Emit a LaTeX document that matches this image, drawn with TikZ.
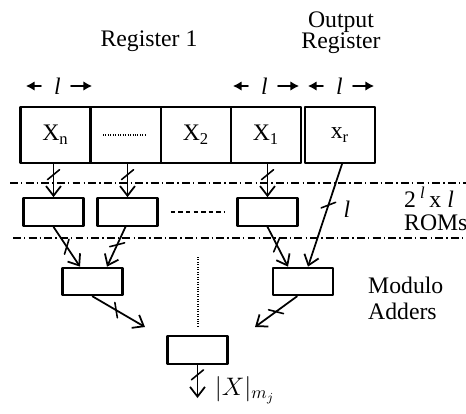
\documentclass[tikz,border=0pt]{standalone}
\usepackage{fontspec}
\setmainfont{Liberation Serif}
\usetikzlibrary{arrows.meta,decorations.markings,calc}
\begin{document}
\begin{tikzpicture}[x=0.02cm,y=-0.02cm,line cap=round,line join=round,
  font=\fontsize{13.5}{15}\selectfont,
  reg/.style={draw,line width=1.25pt,minimum width=1.4cm,minimum height=1.12cm,inner sep=0pt},
  blk/.style={draw,line width=1.25pt,minimum width=1.2cm,minimum height=0.55cm,inner sep=0pt},
  arr/.style={line width=1pt,-{Straight Barb[length=5.5pt,width=8.5pt]}},
  wid/.style={line width=1.2pt,-{Latex[length=5pt,width=5.5pt]}},
  sep/.style={line width=0.85pt,line cap=butt,dash pattern=on 4.5pt off 1.8pt on 0.8pt off 1.8pt},
  bus/.style={postaction={decorate},decoration={markings,
    mark=at position #1 with {\draw[-,line width=0.9pt] (2.8pt,-3.4pt) -- (-2.8pt,3.4pt);}}}]
  \useasboundingbox (0,0) rectangle (466,413);
  % titles
  \node (t1) at (149,41) {Register 1};
  \node[align=center] (t2) at (341,33) {Output\\[-3pt]Register};
  % widths
  \foreach \n/\x in {wa/57.5,wb/264.5,wc/339.5}{
    \node[inner sep=0pt] (\n) at (\x,86) {\textit{l}};
    \draw[wid] (\n.west) ++(-13,0) -- ++(-15,0);
    \draw[wid] (\n.east) ++(10,0) -- ++(21,0);
  }
  % registers
  \node[reg] (rn) at (55.5,135) {X\textsubscript{n}};
  \node[reg] (rd) at (126,135) {};
  \node[reg] (r2) at (196,135) {X\textsubscript{2}};
  \node[reg] (r1) at (266,135) {X\textsubscript{1}};
  \node[reg] (rr) at (340,135) {x\textsubscript{r}};
  \draw[line width=0.7pt,line cap=butt,dash pattern=on 0.5pt off 0.9pt] (rd.center) ++(-23,0) -- ++(42,0);
  % separators
  \draw[sep] (10,183) -- (466,183);
  \draw[sep] (13,238) -- (466,238);
  % roms
  \node[blk] (m1) at (53.5,212) {};
  \node[blk] (m2) at (127.5,212) {};
  \node[blk] (m3) at (267.5,212) {};
  \draw[line width=0.7pt,line cap=butt,dash pattern=on 2.5pt off 1.8pt,shorten <=7pt,shorten >=7pt] (m2) -- (m3);
  \node[anchor=west] (rom1) at (398,197) {2\,\textsuperscript{\textit{l}}\,x \textit{l}};
  \node[anchor=west] (rom2) at (398,223) {ROMs};
  % adders
  \node[blk] (a1) at (92.5,281.5) {};
  \node[blk] (a2) at (303,281.5) {};
  \node[anchor=west] (ad1) at (362,285) {Modulo};
  \node[anchor=west] (ad2) at (362,311) {Adders};
  \draw[line width=0.6pt,line cap=butt,dash pattern=on 0.5pt off 0.9pt] (198,257) -- (198,328);
  \node[blk] (f) at (197.5,350) {};
  \coordinate (fl) at (145,327);
  \coordinate (fr) at (255,327);
  \coordinate (out) at (197.5,398);
  % connectors
  \draw[arr,bus=.32] (m1.north |- rn.south) -- (m1.north);
  \draw[arr,bus=.32] (m2.north |- rd.south) -- (m2.north);
  \draw[arr,bus=.32] (m3.north |- r1.south) -- (m3.north);
  \draw[arr,bus=.4] ($(rr.south)+(2,0)$) -- ($(a2.north)+(5,0)$);
  \node (lr) at (347,209) {\textit{l}};
  \draw[arr,bus=.5] (m1.south) -- ($(a1.north)+(-12.5,0)$);
  \draw[arr,bus=.45] ($(m2.south)+(-2,0)$) -- ($(a1.north)+(14.5,0)$);
  \draw[arr,bus=.45] (m3.south) -- ($(a2.north)+(-15,0)$);
  \draw[arr,bus=.45] (a1.south) -- (fl);
  \draw[arr,bus=.5] ($(a2.south)+(-6,0)$) -- (fr);
  \draw[arr,bus=.3] (f.south) -- (out);
  \node[font=\fontsize{14.5}{16}\selectfont] (res) at (245,390) {$|X|_{m_j}$};
\end{tikzpicture}
\end{document}
